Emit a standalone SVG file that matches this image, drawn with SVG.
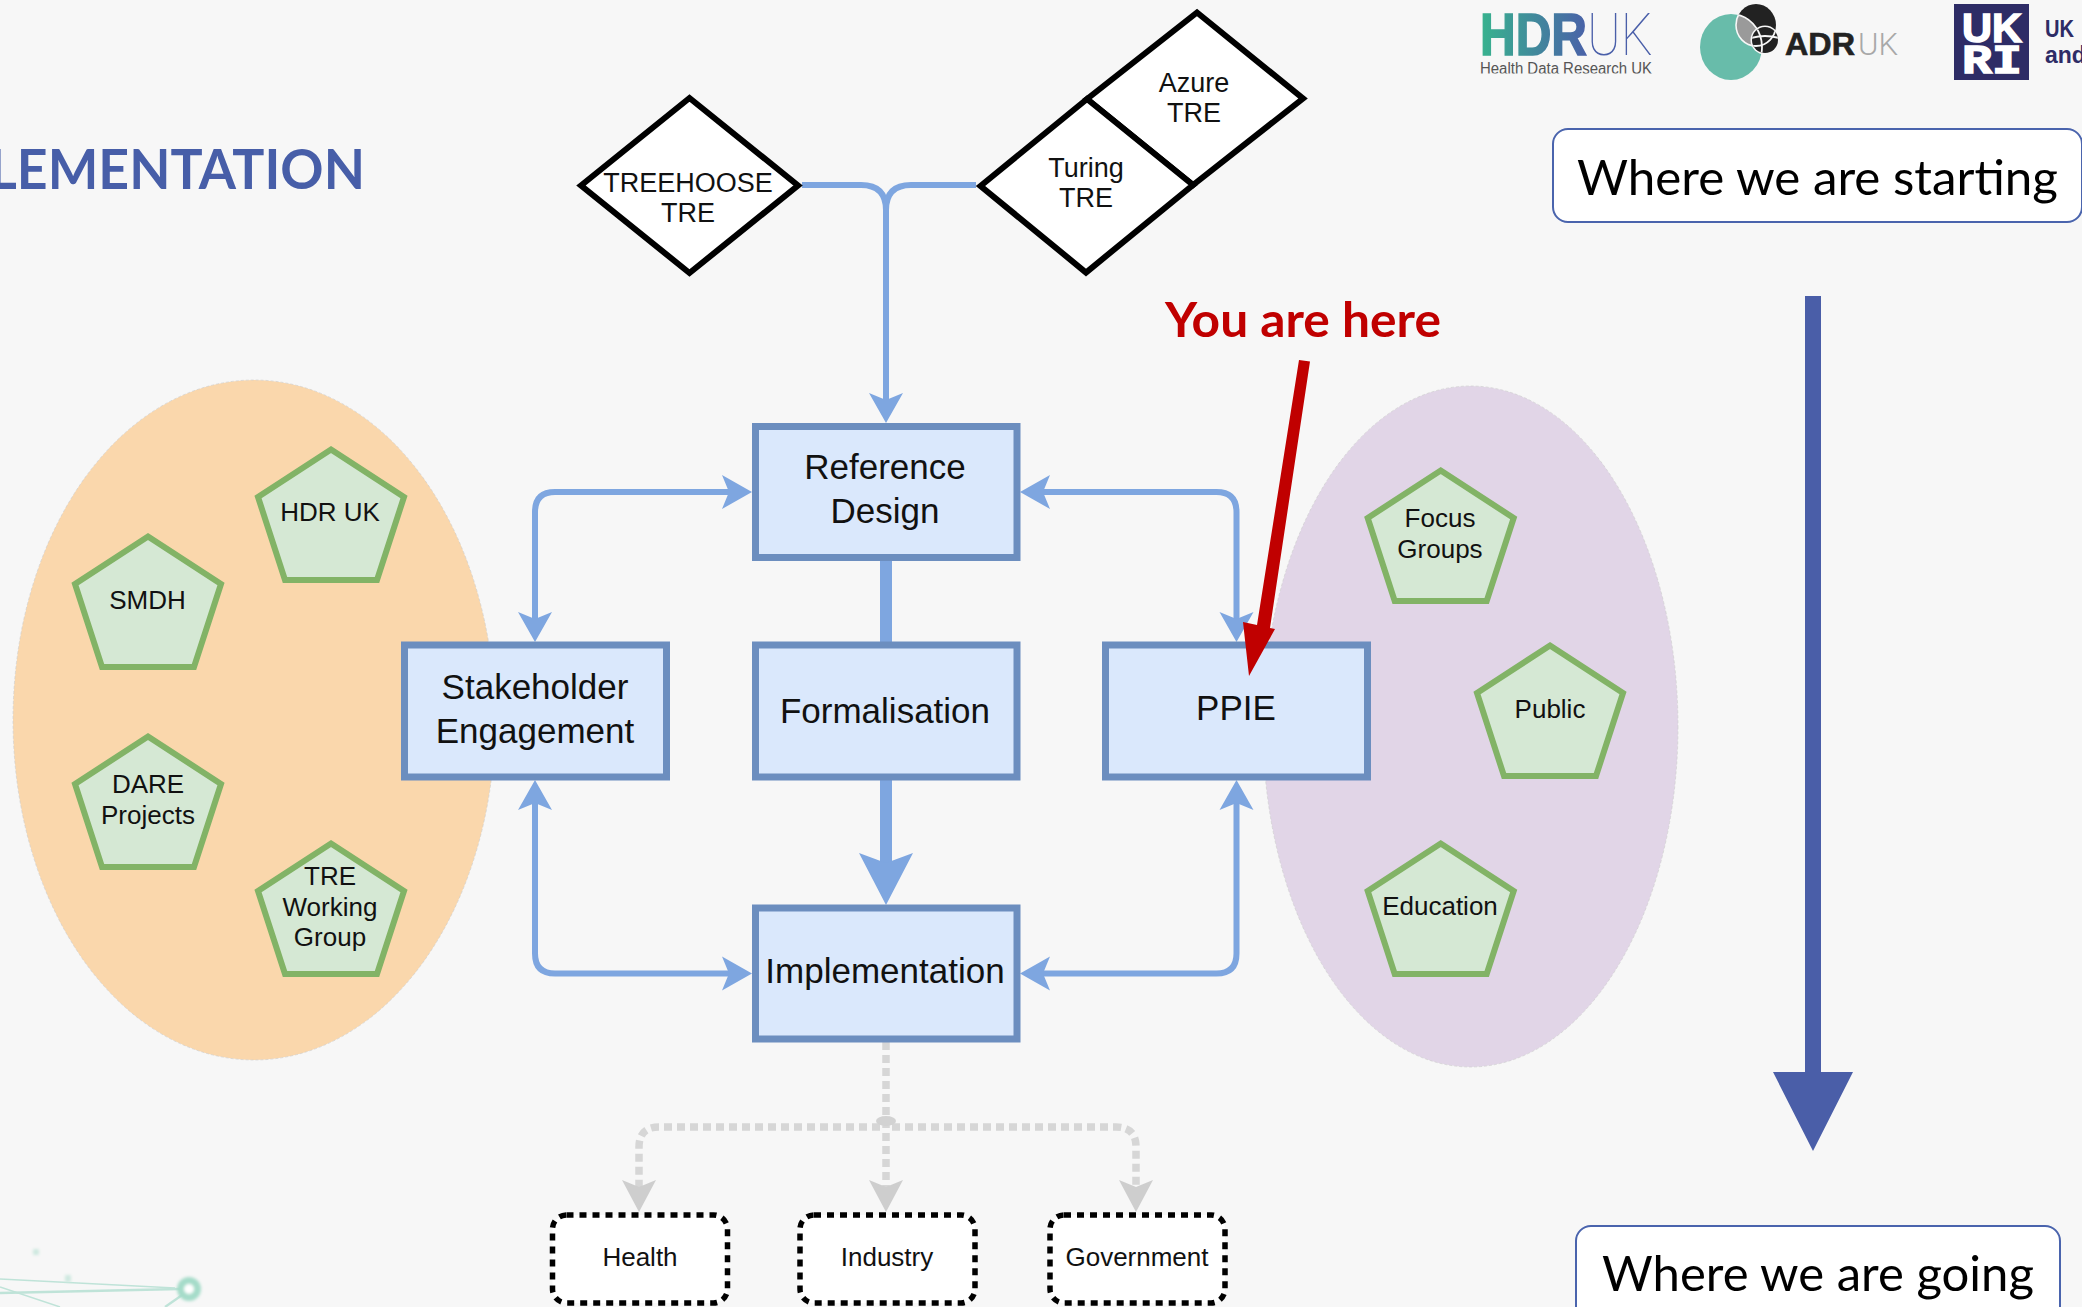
<svg xmlns="http://www.w3.org/2000/svg" width="2082" height="1307" viewBox="0 0 2082 1307">
<style>
text{font-family:"Liberation Sans",Arial,sans-serif;fill:#111;text-anchor:middle}
.bx{fill:#dae8fc;stroke:#6c8ebf;stroke-width:7}
.bt{font-size:35px}
.dm{fill:#fff;stroke:#000;stroke-width:6;stroke-linejoin:miter}
.dt{font-size:27px}
.pg{fill:#d5e8d4;stroke:#82b366;stroke-width:6}
.pt{font-size:26px}
.ot{fill:#fff;stroke:#000;stroke-width:5.5;stroke-dasharray:7 6}
.ott{font-size:26px}
.c{fill:none;stroke:#7ea6e0;stroke-width:6}
.g{fill:none;stroke:#d6d6d6;stroke-width:7.5;stroke-dasharray:8 5}
.pill{fill:#fff;stroke:#4a64ad;stroke-width:2}
.cal{font-family:Lato,"Liberation Sans",sans-serif;text-anchor:start}
.net{stroke:#bfe3d8;fill:none}
</style>
<defs>
<marker id="a" markerUnits="userSpaceOnUse" markerWidth="32" markerHeight="36" viewBox="0 -18 32 36" refX="10" refY="0" orient="auto-start-reverse"><path d="M0-17L30 0L0 17L7 0Z" fill="#7ea6e0"/></marker>
<marker id="b" markerUnits="userSpaceOnUse" markerWidth="54" markerHeight="58" viewBox="0 -29 54 58" refX="22" refY="0" orient="auto"><path d="M0-27L52 0L0 27L10 0Z" fill="#7ea6e0"/></marker>
<marker id="g" markerUnits="userSpaceOnUse" markerWidth="34" markerHeight="38" viewBox="0 -19 34 38" refX="12" refY="0" orient="auto"><path d="M0-17L32 0L0 17L7 0Z" fill="#cecece"/></marker>
<linearGradient id="hdr" gradientUnits="userSpaceOnUse" x1="1480" y1="0" x2="1590" y2="0"><stop offset="0" stop-color="#38b38e"/><stop offset="1" stop-color="#4a5fa9"/></linearGradient>
<clipPath id="hc"><rect x="1470" y="60" width="200" height="13.5"/></clipPath>
<clipPath id="lens"><ellipse cx="1731" cy="47" rx="31" ry="33"/></clipPath>
<clipPath id="blk"><ellipse cx="1756" cy="25" rx="20" ry="21"/></clipPath>
<clipPath id="sm"><circle cx="1765" cy="40" r="13"/></clipPath>
<filter id="bl" x="-50%" y="-50%" width="200%" height="200%"><feGaussianBlur stdDeviation="1.6"/></filter>
<path id="pent" d="M0 3.500L73 51L46 134H-46L-73 51Z"/>
</defs>
<rect width="2082" height="1307" fill="#f7f7f7"/>

<g id="deco-network">
<path class="net" stroke-width="1.6" d="M0 1279L175 1288"/>
<path class="net" stroke-width="2.6" d="M0 1293L180 1289"/>
<path class="net" stroke-width="1.4" d="M0 1287L60 1307"/>
<path class="net" stroke-width="2.4" d="M165 1307L185 1293"/>
<rect x="33" y="1249" width="6" height="6" fill="#cfe9e0" filter="url(#bl)"/>
<rect x="65" y="1275" width="6" height="7" fill="#cfe9e0" filter="url(#bl)"/>
<circle cx="189" cy="1289" r="8.5" fill="#fff" stroke="#a5dcc9" stroke-width="7" filter="url(#bl)"/>
</g>

<text id="title" class="cal" x="-11" y="189" font-size="56" font-weight="700" style="fill:#475ea8" textLength="376" lengthAdjust="spacingAndGlyphs">LEMENTATION</text>

<g id="group-stakeholders"><ellipse cx="254" cy="720" rx="241" ry="340" fill="#fad7ac" stroke="#ccc" stroke-opacity=".6" stroke-width="1" stroke-dasharray="3 2"/></g>
<g id="group-public"><ellipse cx="1470.5" cy="726.5" rx="207.5" ry="340.5" fill="#e1d5e7" stroke="#ccc" stroke-opacity=".6" stroke-width="1" stroke-dasharray="3 2"/></g>

<g id="connectors">
<path class="c" d="M802 185H861Q886 185 886 210V403" marker-end="url(#a)"/>
<path class="c" d="M976 185H911Q886 185 886 210"/>
<path class="c" marker-start="url(#a)" marker-end="url(#a)" d="M535 622V512Q535 492 555 492H732"/>
<path class="c" marker-start="url(#a)" marker-end="url(#a)" d="M535 800V953.5Q535 973.5 555 973.5H732"/>
<path class="c" marker-start="url(#a)" marker-end="url(#a)" d="M1236.5 622V512Q1236.5 492 1216.5 492H1040"/>
<path class="c" marker-start="url(#a)" marker-end="url(#a)" d="M1236.5 800V953.5Q1236.5 973.5 1216.5 973.5H1040"/>
<path class="c" style="stroke-width:12" d="M886 560V642"/>
<path class="c" style="stroke-width:12" d="M886 780V875" marker-end="url(#b)"/>
<path class="g" d="M886 1042V1192" marker-end="url(#g)"/>
<path class="g" d="M880 1127H659Q639 1127 639 1147V1192" marker-end="url(#g)"/>
<path class="g" d="M892 1127H1116Q1136 1127 1136 1147V1192" marker-end="url(#g)"/>
<ellipse cx="886" cy="1121" rx="10" ry="5" fill="#d2d2d2"/>
</g>

<g id="treehoose"><path class="dm" d="M581 185.5L689.5 98L798 185.500L689.5 273Z"/><text class="dt" x="688" y="192">TREEHOOSE</text><text class="dt" x="688" y="222">TRE</text></g>
<g id="azure"><path class="dm" d="M1087 99L1197 12.500L1303 98.500L1193 185Z"/><text class="dt" x="1194" y="92">Azure</text><text class="dt" x="1194" y="122">TRE</text></g>
<g id="turing"><path class="dm" d="M980.500 186L1087 99L1193 185L1086 272.500Z"/><text class="dt" x="1086" y="177">Turing</text><text class="dt" x="1086" y="207">TRE</text></g>

<g id="reference-design"><rect class="bx" x="755.5" y="426.5" width="261.500" height="131"/><text class="bt" x="885" y="479">Reference</text><text class="bt" x="885" y="523">Design</text></g>
<g id="stakeholder-engagement"><rect class="bx" x="404.500" y="645" width="262" height="132"/><text class="bt" x="535" y="699">Stakeholder</text><text class="bt" x="535" y="743">Engagement</text></g>
<g id="formalisation"><rect class="bx" x="755.5" y="645" width="261.500" height="132"/><text class="bt" x="885" y="723">Formalisation</text></g>
<g id="ppie"><rect class="bx" x="1105.500" y="645" width="262" height="132"/><text class="bt" x="1236" y="720">PPIE</text></g>
<g id="implementation"><rect class="bx" x="755.5" y="908" width="261.500" height="131"/><text class="bt" x="885" y="983">Implementation</text></g>

<g id="hdr-uk"><use href="#pent" class="pg" x="331" y="446"/><text class="pt" x="330" y="521">HDR UK</text></g>
<g id="smdh"><use href="#pent" class="pg" x="148" y="533"/><text class="pt" x="147.500" y="609">SMDH</text></g>
<g id="dare"><use href="#pent" class="pg" x="148" y="733"/><text class="pt" x="148" y="793">DARE</text><text class="pt" x="148" y="824">Projects</text></g>
<g id="tre-wg"><use href="#pent" class="pg" x="331" y="840"/><text class="pt" x="330" y="885">TRE</text><text class="pt" x="330" y="916">Working</text><text class="pt" x="330" y="946">Group</text></g>
<g id="focus"><use href="#pent" class="pg" x="1440.700" y="467"/><text class="pt" x="1440" y="527">Focus</text><text class="pt" x="1440" y="558">Groups</text></g>
<g id="public"><use href="#pent" class="pg" x="1550" y="642"/><text class="pt" x="1550" y="718">Public</text></g>
<g id="education"><use href="#pent" class="pg" x="1440.700" y="840"/><text class="pt" x="1440" y="915">Education</text></g>

<g id="health"><rect class="ot" x="552.500" y="1215" width="175" height="88" rx="14"/><text class="ott" x="640" y="1266">Health</text></g>
<g id="industry"><rect class="ot" x="800" y="1215" width="175" height="88" rx="14"/><text class="ott" x="887" y="1266">Industry</text></g>
<g id="government"><rect class="ot" x="1050" y="1215" width="175" height="88" rx="14"/><text class="ott" x="1137" y="1266">Government</text></g>

<g id="you-are-here"><text class="cal" x="1165" y="337" font-size="47" font-weight="700" style="fill:#c00000" textLength="276" lengthAdjust="spacingAndGlyphs">You are here</text>
<path d="M1299 360L1310 361.500L1270 628L1275 629L1249 676L1243 622L1257 625Z" fill="#c00000"/></g>

<g id="direction-arrow"><path d="M1805 296H1821V1072H1853L1813 1151L1773 1072H1805Z" fill="#4a5ea8"/></g>
<g id="starting"><rect class="pill" x="1553" y="129" width="529" height="93" rx="15"/><text class="cal" x="1577" y="195" font-size="48" style="fill:#000" textLength="481" lengthAdjust="spacingAndGlyphs">Where we are starting</text></g>
<g id="going"><rect class="pill" x="1576" y="1226" width="484" height="120" rx="15"/><text class="cal" x="1602" y="1291" font-size="48" style="fill:#000" textLength="432" lengthAdjust="spacingAndGlyphs">Where we are going</text></g>

<g id="logo-hdr">
<text x="1480" y="55" font-size="60" font-weight="700" style="fill:url(#hdr);stroke:url(#hdr);stroke-width:1.6;text-anchor:start" textLength="107" lengthAdjust="spacingAndGlyphs">HDR</text>
<text x="1587" y="55" font-size="60" font-weight="100" style="font-family:Roboto,sans-serif;fill:#4a5fa9;text-anchor:start" textLength="66" lengthAdjust="spacingAndGlyphs">UK</text>
<g clip-path="url(#hc)"><text x="1480" y="74" font-size="16" style="fill:#555;text-anchor:start" textLength="172" lengthAdjust="spacingAndGlyphs">Health Data Research UK</text></g>
</g>
<g id="logo-adr">
<ellipse cx="1731" cy="47" rx="31" ry="33" fill="#68bcaa"/>
<ellipse cx="1756" cy="25" rx="20" ry="21" fill="#222"/>
<ellipse cx="1756" cy="25" rx="20" ry="21" fill="#9a9a9a" clip-path="url(#lens)"/>
<ellipse cx="1756" cy="25" rx="20" ry="21" fill="none" stroke="#f7f7f7" stroke-width="1.6" clip-path="url(#lens)"/>
<ellipse cx="1731" cy="47" rx="31" ry="33" fill="none" stroke="#f7f7f7" stroke-width="1.6" clip-path="url(#blk)"/>
<circle cx="1765" cy="40" r="14.500" fill="#f7f7f7"/>
<circle cx="1765" cy="40" r="13" fill="#222"/>
<g clip-path="url(#sm)" fill="none" stroke="#f7f7f7" stroke-width="1.800"><path d="M1751 38Q1765 34 1779 38"/><ellipse cx="1731" cy="47" rx="31" ry="33"/><ellipse cx="1756" cy="25" rx="20" ry="21"/></g>
<text x="1785" y="55" font-size="32" font-weight="700" style="fill:#222;stroke:#222;stroke-width:.6;text-anchor:start" textLength="70" lengthAdjust="spacingAndGlyphs">ADR</text>
<text x="1858" y="55" font-size="32" font-weight="300" style="font-family:Roboto,sans-serif;fill:#a8a8a8;text-anchor:start" textLength="40" lengthAdjust="spacingAndGlyphs">UK</text>
</g>
<g id="logo-ukri">
<rect x="1954" y="4" width="75" height="76" fill="#2e2c66"/>
<text x="1962" y="42" font-size="41" font-weight="700" style="fill:#fff;stroke:#fff;stroke-width:1.500;text-anchor:start" textLength="60" lengthAdjust="spacingAndGlyphs">UK</text>
<text x="1962" y="73" font-size="41" font-weight="700" style="font-family:'Liberation Mono',monospace;fill:#fff;stroke:#fff;stroke-width:1.500;text-anchor:start" textLength="60" lengthAdjust="spacingAndGlyphs">RI</text>
<text x="2045" y="37" font-size="23" font-weight="700" style="fill:#2e2c66;text-anchor:start" textLength="29" lengthAdjust="spacingAndGlyphs">UK</text>
<text x="2045" y="63" font-size="23" font-weight="700" style="fill:#2e2c66;text-anchor:start">and</text>
</g>
</svg>
